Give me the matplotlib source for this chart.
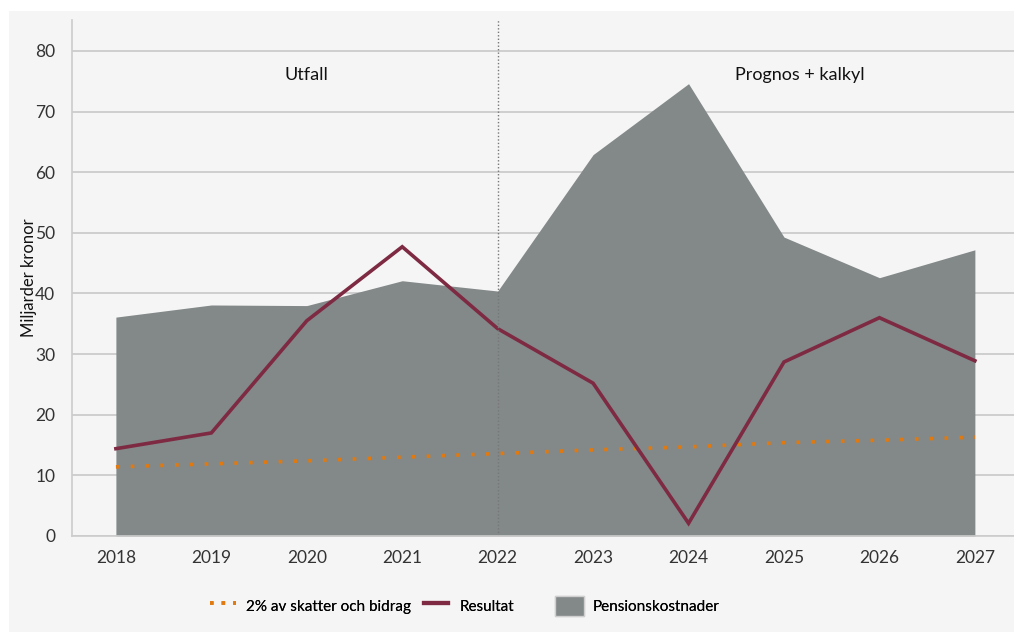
import matplotlib
matplotlib.use("Agg")
import matplotlib.pyplot as plt
from matplotlib.patches import Rectangle, Patch
from matplotlib.lines import Line2D

plt.rcParams['font.family'] = ['Lato', 'DejaVu Sans']

years = [2018, 2019, 2020, 2021, 2022, 2023, 2024, 2025, 2026, 2027]
pensionskostnader = [36.1, 38.1, 38.0, 42.1, 40.4, 62.9, 74.6, 49.3, 42.6, 47.2]
resultat = [14.4, 17.0, 35.5, 47.7, 34.2, 25.2, 2.1, 28.7, 36.0, 28.9]
tva_procent = [11.4, 11.9, 12.4, 13.0, 13.6, 14.2, 14.7, 15.4, 15.8, 16.3]
yticks = [0, 10, 20, 30, 40, 50, 60, 70, 80]

C_AREA = '#838889'
C_RES = '#7d2a42'
C_ORANGE = '#e07a10'

W, H = 1014, 632
fig = plt.figure(figsize=(W / 100, H / 100), dpi=100, facecolor='white')
fig.patches.append(Rectangle((9 / W, 0), 1 - 9 / W, 1 - 11 / H, transform=fig.transFigure,
                             facecolor='#f5f5f5', edgecolor='none', zorder=-10))

ax = fig.add_axes([72 / W, 1 - 536 / H, (1014 - 72) / W, (536 - 20) / H])
ax.set_facecolor('none')

ax.fill_between(years, 0, pensionskostnader, color=C_AREA, linewidth=0, zorder=2)
ax.plot(years, resultat, color=C_RES, linewidth=2.6, zorder=4, solid_joinstyle='miter')
ax.plot(years, tva_procent, color=C_ORANGE, linewidth=2.6, linestyle=(0, (1.0, 3.1)), zorder=3)
ax.axvline(2022, color='#777777', linewidth=1, linestyle=(0, (1, 1.5)), zorder=5)

ax.set_xlim(2017.54, 2027.41)
ax.set_ylim(0, 85.1)
ax.set_xticks(years)
ax.set_yticks(yticks)
ax.tick_params(axis='both', length=0, labelsize=12.5, colors='#333333')
ax.tick_params(axis='x', pad=10)
ax.tick_params(axis='y', pad=12)
ax.grid(axis='y', color='#c8c8c8', linewidth=1.2, zorder=1)
ax.set_axisbelow(True)
for s in ['top', 'right']:
    ax.spines[s].set_visible(False)
for s in ['left', 'bottom']:
    ax.spines[s].set_color('#cccccc')
    ax.spines[s].set_linewidth(1.2)
ax.spines['bottom'].set_zorder(6)

ax.set_ylabel('Miljarder kronor', fontsize=12, color='#111111', labelpad=-1)

ax.text(2020, 76, 'Utfall', ha='center', va='center', fontsize=13, color='#111111')
ax.text(2025.17, 76, 'Prognos + kalkyl', ha='center', va='center', fontsize=13, color='#111111')

FS = 11
legend_prop = {'family': ['Lato', 'DejaVu Sans'], 'size': FS}
ly = 1 - 606 / H
# (handle, label, left px, handle width px, gap handle->text px)
entries = [
    (Line2D([], [], color=C_ORANGE, linewidth=2.6, linestyle=(0, (1.0, 2.2))),
     '2% av skatter och bidrag', 210, 26, 10),
    (Line2D([], [], color=C_RES, linewidth=3),
     'Resultat', 424, 24, 12),
    (Patch(facecolor=C_AREA, edgecolor='#cfcfcf'),
     'Pensionskostnader', 555, 29, 9),
]
fs_px = FS * 100 / 72
for h, lab, x0, hw, gap in entries:
    leg = fig.legend([h], [lab], loc='center left', bbox_to_anchor=(x0 / W, ly),
                     frameon=False, prop=legend_prop, borderaxespad=0, borderpad=0,
                     handlelength=hw / fs_px, handletextpad=gap / fs_px,
                     handleheight=25 / fs_px)
    fig.add_artist(leg)

fig.savefig('out.png', dpi=100, facecolor='white')
